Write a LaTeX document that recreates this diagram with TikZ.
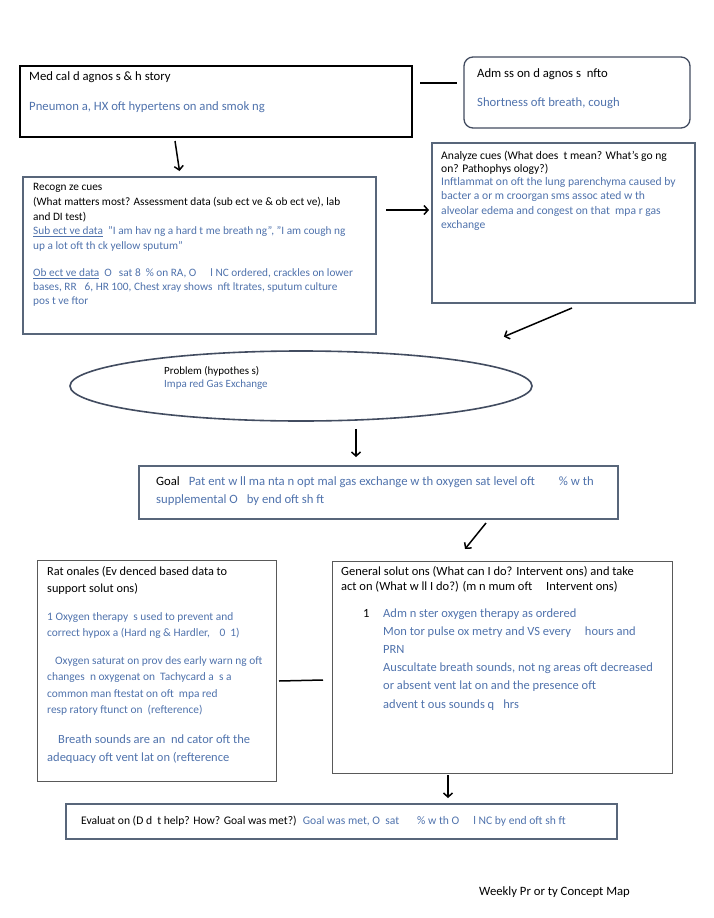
\documentclass[tikz,border=0pt]{standalone}
\usepackage{fontspec}
\setmainfont{Carlito}
\usetikzlibrary{arrows.meta,shapes.geometric}
\definecolor{cueblue}{RGB}{79,114,172}
\definecolor{steel}{RGB}{88,102,122}
\definecolor{rim}{RGB}{66,76,96}

\begin{document}
\begin{tikzpicture}[x=1pt,y=-1pt,
    box/.style={draw,inner sep=0pt,outer sep=0pt,anchor=north west},
    heavybox/.style={box,line width=2.4pt,draw=black},
    steelbox/.style={box,line width=1.8pt,draw=steel},
    thinbox/.style={box,line width=1pt,draw=black!65},
    txt/.style={anchor=base west,inner sep=0pt,align=left},
    big/.style={font=\fontsize{12.7}{15}\selectfont},
    mid/.style={font=\fontsize{11.6}{14.5}\selectfont},
    arr/.style={line width=1.5pt,-{Straight Barb[length=4pt,width=9pt]}},
    link/.style={line width=1.5pt}]

  \useasboundingbox (0,0) rectangle (714,918);

  % boxes
  \node[heavybox,minimum width=392pt,minimum height=71pt] (hist) at (20,66) {};
  \node[box,line width=1.3pt,draw=rim,rounded corners=9pt,minimum width=226pt,minimum height=71pt] (adm) at (464,57) {};
  \node[steelbox,minimum width=353pt,minimum height=157pt] (rec) at (23,177) {};
  \node[steelbox,minimum width=263pt,minimum height=160pt] (ana) at (432,143) {};
  \node[ellipse,draw=rim,line width=1.6pt,inner sep=0pt,minimum width=462pt,minimum height=70pt] (prob) at (301,386) {};
  \node[steelbox,minimum width=479pt,minimum height=53pt] (goal) at (139,466) {};
  \node[thinbox,minimum width=239pt,minimum height=221pt] (rat) at (37,560) {};
  \node[thinbox,minimum width=340pt,minimum height=212pt] (gen) at (332,561) {};
  \node[steelbox,minimum width=551pt,minimum height=35pt] (eval) at (66,804) {};

  % texts (a node's base is its last line)
  \node[txt,big] (histT) at (29,80) {Med cal d agnos s \& h story};
  \node[txt,big,text=cueblue] (histB) at (29,110) {Pneumon a, HX oft hypertens on and smok ng};

  \node[txt,big] (admT) at (477,77) {Adm ss on d agnos s \ nfto};
  \node[txt,big,text=cueblue] (admB) at (477,106) {Shortness oft breath, cough};

  \node[txt,font=\fontsize{11.3}{15}\selectfont] (recT) at (33,220.5) {Recogn ze cues\\
    (What matters most? Assessment data (sub ect ve \& ob ect ve), lab\\
    and DI test)};
  \node[txt,font=\fontsize{11.3}{14.5}\selectfont,text=cueblue] (recS) at (33,249) {\underline{Sub ect ve data} \ "I am hav ng a hard t me breath ng", "I am cough ng\\
    up a lot oft th ck yellow sputum"};
  \node[txt,font=\fontsize{11.3}{14}\selectfont,text=cueblue] (recO) at (33,304.5) {\underline{Ob ect ve data} \ O\hspace{7pt}sat 8\hspace{5pt}\% on RA, O\hspace{14pt}l NC ordered, crackles on lower\\
    bases, RR\hspace{8pt}6, HR 100, Chest xray shows \ nft ltrates, sputum culture\\
    pos t ve ftor};

  \node[txt,font=\fontsize{11.6}{13}\selectfont] (anaT) at (441,172.5) {Analyze cues (What does \ t mean? What's go ng\\
    on? Pathophys ology?)};
  \node[txt,font=\fontsize{11.6}{14.3}\selectfont,text=cueblue] (anaB) at (441,228.5) {Inftlammat on oft the lung parenchyma caused by\\
    bacter a or m croorgan sms assoc ated w th\\
    alveolar edema and congest on that \ mpa r gas\\
    exchange};

  \node[txt,font=\fontsize{11}{13}\selectfont] (probT) at (164,374.5) {Problem (hypothes s)};
  \node[txt,font=\fontsize{11}{13}\selectfont,text=cueblue] (probB) at (164,387.5) {Impa red Gas Exchange};

  \node[txt,font=\fontsize{12.7}{18.5}\selectfont] (goalT) at (156,503.5) {Goal\hspace{9pt}\textcolor{cueblue}{Pat ent w ll ma nta n opt mal gas exchange w th oxygen sat level oft\hspace{24pt}\% w th}\\
    \textcolor{cueblue}{supplemental O\hspace{9pt}by end oft sh ft}};

  \node[txt,font=\fontsize{12.3}{17}\selectfont] (ratT) at (47,592) {Rat onales (Ev denced based data to\\
    support solut ons)};
  \node[txt,font=\fontsize{11.4}{16}\selectfont,text=cueblue] (ratA) at (47,636.5) {1 Oxygen therapy \ s used to prevent and\\
    correct hypox a (Hard ng \& Hardler, \hspace{7pt}0\hspace{5pt}1)};
  \node[txt,font=\fontsize{11.4}{16.3}\selectfont,text=cueblue] (ratB) at (47,713.4) {\hspace{8pt}Oxygen saturat on prov des early warn ng oft\\
    changes \ n oxygenat on \ Tachycard a \ s a\\
    common man ftestat on oft \ mpa red\\
    resp ratory ftunct on \ (refterence)};
  \node[txt,font=\fontsize{12.5}{18}\selectfont,text=cueblue] (ratC) at (47,761) {\hspace{11pt}Breath sounds are an \ nd cator oft the\\
    adequacy oft vent lat on (refterence};

  \node[txt,font=\fontsize{12.5}{15.5}\selectfont] (genT) at (341,590.5) {General solut ons (What can I do? Intervent ons) and take\\
    act on (What w ll I do?) (m n mum oft\hspace{14pt}Intervent ons)};
  \node[txt,font=\fontsize{12.5}{18.2}\selectfont] (genN) at (363,617) {1};
  \node[txt,font=\fontsize{12.5}{18.2}\selectfont,text=cueblue] (genL) at (383,708) {Adm n ster oxygen therapy as ordered\\
    Mon tor pulse ox metry and VS every\hspace{14pt}hours and\\
    PRN\\
    Auscultate breath sounds, not ng areas oft decreased\\
    or absent vent lat on and the presence oft\\
    advent t ous sounds q\hspace{9pt}hrs};

  \node[txt,mid] (evalT) at (81,824) {Evaluat on (D d \ t help? How? Goal was met?) \ \textcolor{cueblue}{Goal was met, O \ sat\hspace{18pt}\% w th O\hspace{14pt}l NC by end oft sh ft}};

  \node[txt,big] (title) at (479,895) {Weekly Pr or ty Concept Map};

  % connectors
  \draw[link] ([xshift=8pt,yshift=18.5pt]hist.east) -- ([xshift=-7pt,yshift=9.5pt]adm.west);
  \draw[arr] ([xshift=-41pt,yshift=-4pt]hist.south) -- ([xshift=-20pt,yshift=6pt]rec.north);
  \draw[arr] ([xshift=10pt,yshift=45.5pt]rec.east) -- ([xshift=-3pt,yshift=13pt]ana.west);
  \draw[arr] ([xshift=8.5pt,yshift=-5pt]ana.south) -- ([xshift=39pt,yshift=24pt]prob.north east);
  \draw[arr] ([xshift=55pt,yshift=-7pt]prob.south) -- ([xshift=-22.5pt,yshift=9pt]goal.north);
  \draw[arr] ([xshift=107.5pt,yshift=-4pt]goal.south) -- ([xshift=-37pt,yshift=12pt]gen.north);
  \draw[link] ([xshift=3pt,yshift=-10.5pt]rat.east) -- ([xshift=-9pt,yshift=-13pt]gen.west);
  \draw[arr] ([xshift=-54pt,yshift=-2pt]gen.south) -- ([xshift=106.5pt,yshift=6pt]eval.north);

\end{tikzpicture}
\end{document}
